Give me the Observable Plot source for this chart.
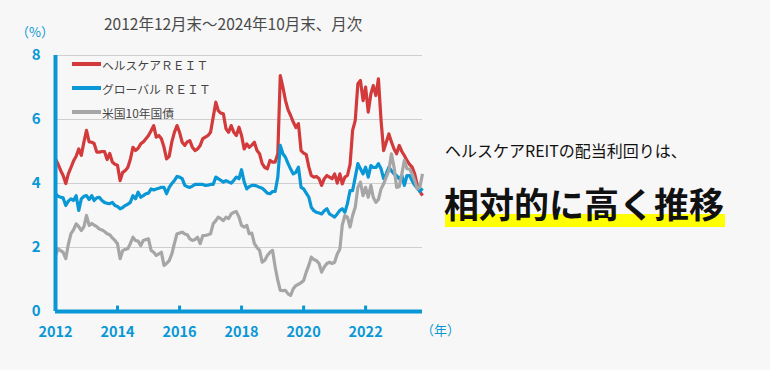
<!DOCTYPE html>
<html>
<head>
<meta charset="utf-8">
<script src="https://cdn.jsdelivr.net/npm/d3@7"></script>
<script src="https://cdn.jsdelivr.net/npm/@observablehq/plot@0.6"></script>
<style>
  html, body { margin: 0; padding: 0; background: #f7f7f7; }
  #wrap { position: relative; width: 770px; height: 370px; background: #f7f7f7; overflow: hidden;
          font-family: "Noto Sans CJK JP", "Noto Sans", sans-serif; }
  #wrap svg { position: absolute; left: 0; top: 0; }
  .abs { position: absolute; white-space: nowrap; }
  .leg { position: absolute; left: 72px; height: 20px; display: flex; align-items: center; font-size: 11.8px; color: #444; white-space: pre; }
  .leg i { display: inline-block; width: 29px; height: 4px; margin-right: 1px; }
</style>
</head>
<body>
<div id="wrap"></div>
<script>
// Series names
const seriesNames = ["ヘルスケアＲＥＩＴ", "グローバル ＲＥＩＴ", "米国10年国債"];
const seriesColors = ["#d23a3c", "#0a97d6", "#a6a6a6"];

// Monthly observations from 2012-12 through 2024-10 (143 months), in %
const startYear = 2012, startMonth = 11; // December 2012 (0-based month)
const healthcareReit = [
  4.77,4.6,4.4,4.25,4.0,4.3,4.5,4.7,4.85,5.08,4.88,5.3,5.66,5.3,5.29,5.25,4.98,4.98,5.0,5.0,
  4.75,4.94,4.67,4.6,4.57,4.09,4.35,4.4,4.5,4.75,5.13,5.03,5.1,5.24,5.3,5.4,5.5,5.65,5.81,5.45,
  5.5,5.4,5.13,4.77,4.85,5.3,5.6,5.81,5.6,5.29,5.19,5.3,5.34,5.13,5.03,5.08,5.19,5.4,5.45,5.5,
  5.6,6.07,6.54,6.28,6.2,6.18,5.71,5.6,5.81,5.6,5.5,5.76,5.5,5.08,5.24,5.13,5.2,5.29,5.03,4.93,
  4.62,4.5,4.46,4.72,4.67,4.67,4.93,7.375,7.01,6.6,6.3,6.125,5.92,5.75,5.87,5.03,4.95,4.9,4.51,4.25,
  4.2,4.22,4.15,3.94,4.15,4.25,4.2,4.15,4.3,4.01,4.3,3.99,4.2,4.25,4.6,5.66,5.97,7.12,7.22,6.59,
  7.01,6.23,6.8,7.06,6.75,7.27,5.97,5.03,5.29,5.55,5.3,5.08,4.93,5.19,5.0,4.875,4.72,4.6,4.51,4.3,
  3.94,3.75,3.62
];
const globalReit = [
  3.68,3.6,3.57,3.55,3.31,3.45,3.52,3.47,3.62,3.16,3.52,3.6,3.62,3.5,3.62,3.47,3.55,3.57,3.47,3.41,
  3.38,3.37,3.41,3.31,3.28,3.21,3.25,3.31,3.35,3.41,3.62,3.52,3.73,3.57,3.62,3.68,3.7,3.83,3.8,3.83,
  3.85,3.88,3.88,3.68,3.88,4.0,4.09,4.22,4.2,4.15,3.94,3.9,3.88,3.92,3.97,3.97,3.97,3.97,3.94,3.95,
  3.97,3.97,4.2,4.15,4.1,4.04,4.09,4.05,4.01,4.1,4.2,4.15,4.43,4.05,3.83,3.9,3.94,3.94,3.92,3.88,
  3.85,3.78,3.7,3.68,3.75,3.75,4.2,5.19,4.93,4.82,4.62,4.45,4.3,4.35,4.51,3.88,3.83,3.7,3.57,3.26,
  3.15,3.1,3.08,3.05,3.15,3.21,3.05,3.0,2.95,3.05,3.16,3.21,3.1,3.37,3.78,3.78,4.2,4.62,4.46,4.3,
  4.51,4.2,4.56,4.5,4.5,4.62,4.46,4.15,4.3,4.51,4.4,4.3,4.25,4.15,4.25,3.94,4.25,4.25,4.09,3.95,
  3.85,3.75,3.85
];
const us10y = [
  1.75,1.96,1.9,1.85,1.65,2.1,2.43,2.55,2.74,2.65,2.53,2.65,3.0,2.69,2.75,2.7,2.65,2.58,2.55,2.5,
  2.43,2.4,2.3,2.22,2.12,1.65,1.91,1.94,1.96,2.12,2.32,2.22,2.2,2.06,2.22,2.25,2.27,1.91,1.85,1.75,
  1.8,1.85,1.44,1.5,1.59,1.8,2.12,2.43,2.45,2.48,2.42,2.4,2.27,2.22,2.25,2.32,2.12,2.375,2.375,2.4,
  2.43,2.74,2.84,2.95,2.9,2.84,2.95,2.9,3.05,3.1,3.12,2.95,2.69,2.64,2.69,2.43,2.45,2.12,2.0,1.91,
  1.54,1.6,1.75,1.85,1.91,1.39,0.97,0.66,0.65,0.66,0.55,0.5,0.71,0.81,0.85,0.9,0.97,1.23,1.45,1.7,
  1.62,1.59,1.5,1.23,1.39,1.5,1.54,1.5,1.54,1.8,1.95,2.7,3.0,2.95,2.64,3.0,3.26,3.88,4.04,3.62,
  3.88,3.57,3.94,3.57,3.41,3.5,3.83,3.99,4.2,4.41,4.93,4.51,3.88,3.9,4.3,4.72,4.46,4.45,4.3,4.09,
  3.83,3.9,4.3
];
const yTicks = [0, 2, 4, 6, 8];
const gridValues = [2, 4, 6, 8];
const xTickYears = [2012, 2014, 2016, 2018, 2020, 2022];

const BLUE = "#0a97d6";
const monthDate = i => new Date(Date.UTC(startYear, startMonth + i, 1));
const dates = healthcareReit.map((_, i) => monthDate(i));
const allSeries = [healthcareReit, globalReit, us10y];
const rows = [];
allSeries.forEach((vals, s) => vals.forEach((v, i) => rows.push({date: dates[i], value: v, series: seriesNames[s]})));
const xTicks = xTickYears.map(y => new Date(Date.UTC(y, startMonth, 1)));

const chart = Plot.plot({
  width: 770,
  height: 370,
  marginLeft: 55,
  marginRight: 348,
  marginTop: 55,
  marginBottom: 59,
  style: {background: "transparent", fontFamily: "'Noto Sans CJK JP', 'Noto Sans', sans-serif", overflow: "visible"},
  x: {type: "utc", domain: [dates[0], dates[dates.length - 1]]},
  y: {domain: [0, 8]},
  color: {domain: seriesNames, range: seriesColors},
  marks: [
    Plot.gridY(gridValues, {stroke: "#cfcfcf", strokeOpacity: 1, strokeWidth: 1}),
    Plot.axisY(yTicks, {tickSize: 0, tickPadding: 15, fill: BLUE, fontSize: 15, fontWeight: "bold", label: null}),
    Plot.axisX(xTicks, {tickSize: 0, tickPadding: 15, fill: BLUE, fontSize: 14.5, fontWeight: "bold", label: null,
      tickFormat: d => String(d.getUTCFullYear())}),
    Plot.line(rows, {x: "date", y: "value", z: "series", stroke: "series", strokeWidth: 3.2,
      strokeLinejoin: "round", strokeLinecap: "butt"}),
    Plot.ruleX(xTicks.slice(1), {y1: 0, y2: 0.17, stroke: BLUE, strokeWidth: 3}),
    Plot.ruleY([0], {stroke: BLUE, strokeWidth: 4}),
    Plot.ruleX([dates[0]], {stroke: BLUE, strokeWidth: 4})
  ]
});

const wrap = document.getElementById("wrap");
wrap.appendChild(chart);

function addText(html, style) {
  const d = document.createElement("div");
  d.className = "abs";
  d.innerHTML = html;
  Object.assign(d.style, style);
  wrap.appendChild(d);
  return d;
}

// Title
addText("2012年12月末～2024年10月末、月次", {left: "104px", top: "11px", fontSize: "15.5px", color: "#4a4a4a", lineHeight: "24px"});
// Units
addText("（%）", {left: "16px", top: "23px", fontSize: "13px", color: BLUE, lineHeight: "18px"});
addText("（年）", {left: "421px", top: "321px", fontSize: "13px", color: BLUE, lineHeight: "18px"});

// Legend
const legendY = [64, 88, 112];
seriesNames.forEach((name, k) => {
  const d = document.createElement("div");
  d.className = "leg";
  d.style.top = (legendY[k] - 10) + "px";
  d.innerHTML = `<i style="background:${seriesColors[k]}"></i><span>${name}</span>`;
  wrap.appendChild(d);
});

// Right-side message
const bar = document.createElement("div");
Object.assign(bar.style, {position: "absolute", left: "445px", top: "214px", width: "280px", height: "13px", background: "#ffff00"});
wrap.appendChild(bar);
addText("ヘルスケアREITの配当利回りは、", {left: "445px", top: "138px", fontSize: "16px", color: "#111", lineHeight: "24px"});
addText("相対的に高く推移", {left: "444px", top: "181px", fontSize: "35px", fontWeight: "bold", color: "#111", lineHeight: "44px"});
</script>
</body>
</html>
